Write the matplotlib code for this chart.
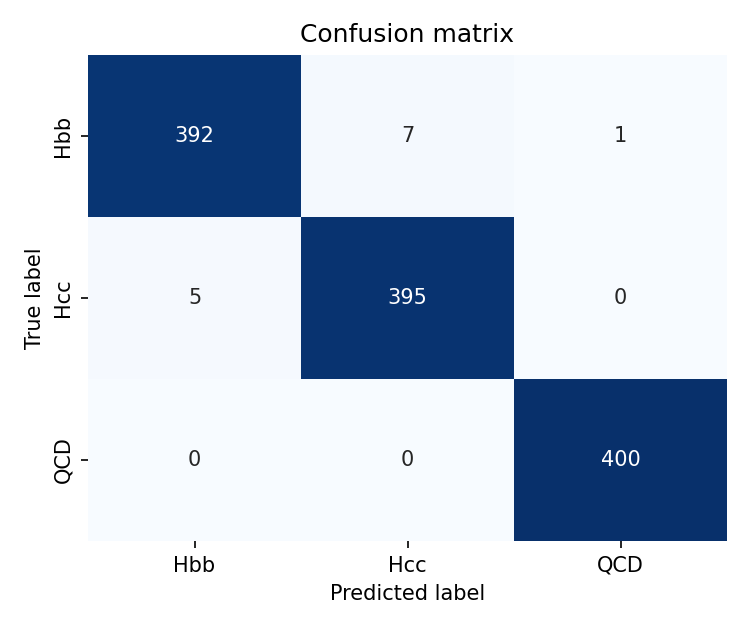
import matplotlib
matplotlib.use("Agg")
import matplotlib.pyplot as plt
import seaborn as sns
import numpy as np

labels = ["Hbb", "Hcc", "QCD"]
row_hbb = [392, 7, 1]
row_hcc = [5, 395, 0]
row_qcd = [0, 0, 400]

cm = np.array([row_hbb, row_hcc, row_qcd])

fig = plt.figure(figsize=(5, 4.2), dpi=150)
ax = fig.add_axes([88/750, 1 - 541/630, (727-88)/750, (541-55)/630])
sns.heatmap(cm, annot=True, fmt="d", cmap="Blues", cbar=False,
            xticklabels=labels, yticklabels=labels, ax=ax,
            annot_kws={"fontsize": 10})
ax.set_title("Confusion matrix", fontsize=12)
ax.set_xlabel("Predicted label", fontsize=10)
ax.set_ylabel("True label", fontsize=10)
ax.tick_params(labelsize=10)
plt.setp(ax.get_yticklabels(), rotation=90, va="center")
fig.savefig("out.png", dpi=150)
